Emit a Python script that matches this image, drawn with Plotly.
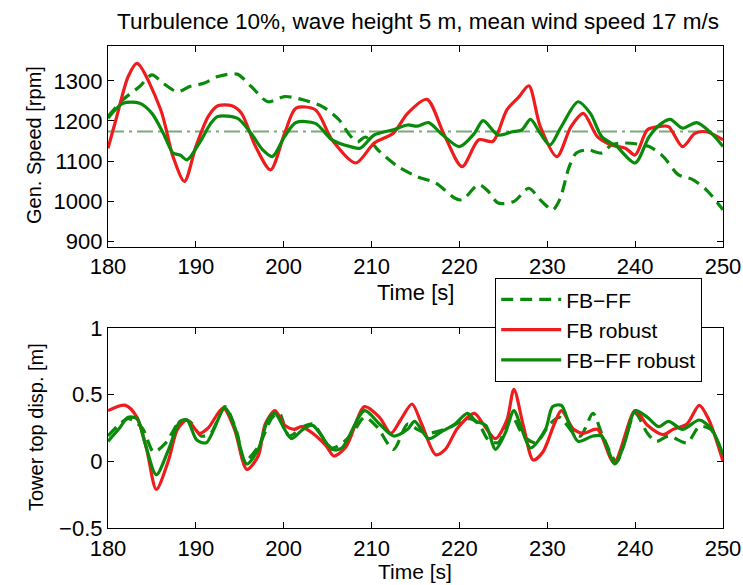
import plotly.graph_objects as go

# ---------------- data: generator speed [rpm] ----------------
rated_speed = 1173.7

gs_fbff_t = [180, 181.7, 183.6, 185, 186.3, 187.9, 189.3, 190.9, 192.5, 194.7,
             196.3, 198.2, 200.1, 202.2, 204.4, 206.3, 207.5, 208.4, 209.3, 210.9,
             213, 215.2, 217.3, 219.5, 220.3, 222.2, 223.3, 224.4, 226.2, 227.9,
             229.2, 230.6, 231.4, 232.5, 233.3, 234.6, 236.2, 237.3, 238.9, 241.6,
             243.2, 244.9, 246.5, 248.1, 250]
gs_fbff_v = [1211, 1253, 1286, 1315, 1294, 1273, 1286, 1294, 1311, 1317,
             1286, 1248, 1261, 1253, 1236, 1203, 1165, 1148, 1160, 1124,
             1086, 1061, 1045, 1007, 1003, 1041, 1024, 995, 999, 1032,
             1003, 978, 1003, 1086, 1120, 1128, 1120, 1140, 1145, 1136,
             1111, 1066, 1054, 1028, 978]

gs_fbr_t = [180, 180.9, 182.3, 183.3, 186, 187.4, 188.7, 190, 191.4, 192.5,
            194.1, 195.2, 196.8, 198.5, 200.1, 201.4, 203.6, 205.5, 208.2, 210.3,
            212.5, 214.1, 216.3, 218.2, 220.3, 222.2, 223.8, 225.4, 226.8, 227.9,
            229.2, 231.1, 232.7, 234.1, 235.7, 237.3, 238.9, 240, 241.4, 242.7,
            243.8, 245.4, 246.8, 248.1, 250]
gs_fbr_v = [1132, 1203, 1311, 1344, 1228, 1111, 1049, 1136, 1211, 1238,
            1238, 1219, 1136, 1078, 1169, 1232, 1228, 1153, 1095, 1145,
            1170, 1219, 1254, 1169, 1086, 1153, 1149, 1228, 1261, 1288,
            1186, 1111, 1186, 1219, 1161, 1140, 1132, 1115, 1178, 1186,
            1186, 1136, 1169, 1173, 1153]

gs_fbffr_t = [180, 181.7, 183.6, 185, 186.3, 187.4, 188.2, 189, 190.4, 191.7,
              192.5, 194.7, 196.3, 197.6, 198.7, 200.1, 201.4, 203.6, 205.5, 207.6,
              208.7, 210.3, 212.5, 214.1, 215.2, 216.5, 217.9, 220, 221.7, 222.7,
              224.4, 226, 227.1, 228.1, 229.2, 230.3, 231.6, 233.5, 234.9, 236.2,
              237.9, 240, 241.6, 243, 244, 245.4, 247, 248.7, 250]
gs_fbffr_v = [1207, 1244, 1244, 1219, 1169, 1120, 1115, 1103, 1145, 1194,
              1211, 1207, 1169, 1128, 1111, 1161, 1196, 1194, 1153, 1136,
              1132, 1165, 1178, 1190, 1187, 1196, 1169, 1136, 1169, 1201,
              1165, 1173, 1178, 1204, 1169, 1140, 1186, 1248, 1219, 1161,
              1136, 1095, 1161, 1194, 1204, 1182, 1196, 1169, 1136]

# ---------------- data: tower top displacement [m] ----------------
td_fbff_t = [180, 182.3, 183.9, 185.2, 186.6, 188.2, 189.3, 190.6, 191.7, 193.3,
             194.7, 195.5, 197.1, 198.7, 199.5, 200.6, 202.2, 203.3, 205.5, 207.6,
             209.2, 210.6, 212.5, 214.1, 215.2, 216.3, 218.4, 221.1, 222.2, 223.3,
             224.4, 226, 227.3, 228.7, 230.3, 231.4, 233, 233.8, 235.2, 236.2,
             237.9, 240, 241.4, 242.4, 243.8, 245.9, 247.3, 248.6, 250]
td_fbff_v = [0.19, 0.32, 0.25, 0.07, 0.14, 0.30, 0.30, 0.19, 0.21, 0.41,
             0.21, 0.0, 0.11, 0.33, 0.36, 0.19, 0.26, 0.28, 0.10, 0.19,
             0.33, 0.26, 0.09, 0.28, 0.24, 0.21, 0.24, 0.32, 0.28, 0.16,
             0.14, 0.33, 0.19, 0.14, 0.28, 0.33, 0.21, 0.19, 0.36, 0.21,
             0.0, 0.36, 0.21, 0.15, 0.19, 0.14, 0.26, 0.24, 0.04]

td_fbr_t = [180, 182, 183.3, 184.4, 185.5, 186.9, 187.9, 189, 190.4, 191.4,
            193.1, 194.4, 195.8, 197.1, 197.9, 199, 200.1, 201.2, 202, 203.3,
            204.9, 205.7, 207.1, 209.2, 210.9, 212.2, 213.3, 214.6, 215.7, 217.3,
            218.4, 219.8, 221.7, 222.7, 224.1, 225.4, 226.2, 227.3, 228.4, 229.5,
            230.8, 231.6, 233, 234.1, 235.7, 237.6, 240, 241.4, 243.2, 244.3,
            245.9, 247.3, 248.4, 250]
td_fbr_v = [0.38, 0.42, 0.33, 0.09, -0.21, 0.01, 0.24, 0.31, 0.21, 0.25,
            0.40, 0.24, -0.06, 0.04, 0.28, 0.38, 0.27, 0.24, 0.26, 0.21,
            0.11, 0.04, 0.11, 0.41, 0.33, 0.21, 0.31, 0.43, 0.28, 0.05,
            0.09, 0.25, 0.36, 0.28, 0.17, 0.31, 0.54, 0.26, 0.01, 0.07,
            0.28, 0.38, 0.24, 0.21, 0.24, -0.01, 0.38, 0.27, 0.20, 0.24,
            0.28, 0.42, 0.31, 0.0]

td_fbffr_t = [180, 181.2, 182.3, 183.3, 184.2, 185.5, 186.9, 188.2, 189, 190.1,
              191.2, 193.3, 194.4, 195.8, 197.1, 198.2, 199, 200.1, 200.9, 202.2,
              203.3, 205.5, 206.6, 209.2, 210.9, 212.5, 214.1, 214.9, 216.5, 217.9,
              219.5, 220.9, 221.9, 223, 224.1, 225.2, 226.2, 227.1, 228.1, 229.8,
              230.6, 231.6, 232.5, 233.5, 235.2, 236.2, 237.7, 238.9, 240, 241.4,
              242.7, 243.8, 245.4, 247.3, 248.7, 250]
td_fbffr_v = [0.15, 0.24, 0.33, 0.32, 0.14, -0.10, 0.09, 0.30, 0.31, 0.16,
              0.14, 0.40, 0.26, -0.02, 0.09, 0.31, 0.36, 0.24, 0.17, 0.24,
              0.27, 0.09, 0.10, 0.38, 0.28, 0.19, 0.24, 0.30, 0.17, 0.22,
              0.28, 0.36, 0.30, 0.27, 0.09, 0.21, 0.38, 0.24, 0.10, 0.24,
              0.41, 0.42, 0.28, 0.15, 0.19, 0.19, -0.02, 0.16, 0.38, 0.33,
              0.26, 0.30, 0.24, 0.31, 0.24, 0.05]

x_ticks = [180, 190, 200, 210, 220, 230, 240, 250]
gs_ticks = [900, 1000, 1100, 1200, 1300]
td_ticks = [-0.5, 0, 0.5, 1]
td_ticklabels = ["\u22120.5", "0", "0.5", "1"]

title_text = "Turbulence 10%, wave height 5 m, mean wind speed 17 m/s"
names = ["FB\u2212FF", "FB robust", "FB\u2212FF robust"]

# ---------------- styling ----------------
RED = "#ee1c1c"
GREEN = "#0a8a0a"
REFGREEN = "#7aa87a"
FONT = "Liberation Sans"
LW = 3.2
DASH = "12px,7px"
HFS = 22   # horizontal text size
VFS = 20   # vertical text size

fig = go.Figure()

# Top panel
fig.add_trace(go.Scatter(x=[x_ticks[0], x_ticks[-1]], y=[rated_speed, rated_speed],
                         mode="lines", line=dict(color=REFGREEN, width=2, dash="16px,5px,3px,5px"),
                         showlegend=False, xaxis="x", yaxis="y", hoverinfo="skip"))
fig.add_trace(go.Scatter(x=gs_fbff_t, y=gs_fbff_v, mode="lines", name=names[0],
                         line=dict(color=GREEN, width=LW, dash=DASH, shape="spline", smoothing=0.8),
                         xaxis="x", yaxis="y", legendrank=1))
fig.add_trace(go.Scatter(x=gs_fbr_t, y=gs_fbr_v, mode="lines", name=names[1],
                         line=dict(color=RED, width=LW, shape="spline", smoothing=0.8),
                         xaxis="x", yaxis="y", legendrank=2))
fig.add_trace(go.Scatter(x=gs_fbffr_t, y=gs_fbffr_v, mode="lines", name=names[2],
                         line=dict(color=GREEN, width=LW, shape="spline", smoothing=0.8),
                         xaxis="x", yaxis="y", legendrank=3))

# Bottom panel
fig.add_trace(go.Scatter(x=td_fbff_t, y=td_fbff_v, mode="lines", name=names[0],
                         line=dict(color=GREEN, width=LW, dash=DASH, shape="spline", smoothing=0.8),
                         xaxis="x2", yaxis="y2", showlegend=False))
fig.add_trace(go.Scatter(x=td_fbr_t, y=td_fbr_v, mode="lines", name=names[1],
                         line=dict(color=RED, width=LW, shape="spline", smoothing=0.8),
                         xaxis="x2", yaxis="y2", showlegend=False))
fig.add_trace(go.Scatter(x=td_fbffr_t, y=td_fbffr_v, mode="lines", name=names[2],
                         line=dict(color=GREEN, width=LW, shape="spline", smoothing=0.8),
                         xaxis="x2", yaxis="y2", showlegend=False))

W, H = 743, 585
xdom = [108 / W, 723 / W]
axis_common = dict(showline=True, linecolor="black", linewidth=1.2, mirror="ticks",
                   ticks="inside", ticklen=6, tickcolor="black", showgrid=False,
                   zeroline=False, automargin=False,
                   tickfont=dict(family=FONT, size=HFS, color="black"))

fig.update_layout(
    width=W, height=H, autosize=False,
    margin=dict(l=0, r=0, t=0, b=0, pad=0, autoexpand=False),
    paper_bgcolor="white", plot_bgcolor="white",
    font=dict(family=FONT, color="black"),
    xaxis=dict(domain=xdom, range=[180, 250], tickvals=x_ticks, anchor="y", **axis_common),
    yaxis=dict(domain=[(H - 246.7) / H, (H - 45.7) / H], range=[886, 1388], tickvals=gs_ticks,
               anchor="x", **axis_common),
    xaxis2=dict(domain=xdom, range=[180, 250], tickvals=x_ticks, anchor="y2", **axis_common),
    yaxis2=dict(domain=[(H - 528) / H, (H - 328) / H], range=[-0.5, 1], tickvals=td_ticks,
                ticktext=td_ticklabels, anchor="x2", **axis_common),
    legend=dict(x=495 / W, y=(H - 278) / H, xanchor="left", yanchor="top",
                bgcolor="white", bordercolor="black", borderwidth=1.2,
                font=dict(family=FONT, size=21, color="black"),
                tracegroupgap=0, itemwidth=60),
    showlegend=True,
)

annotations = [
    dict(text=title_text, x=418 / W, y=(H - 22) / H, xref="paper", yref="paper",
         showarrow=False, font=dict(family=FONT, size=22.5, color="black"),
         xanchor="center", yanchor="middle"),
    dict(text="Time [s]", x=415 / W, y=(H - 292) / H, xref="paper", yref="paper",
         showarrow=False, font=dict(family=FONT, size=HFS, color="black"),
         xanchor="center", yanchor="middle"),
    dict(text="Time [s]", x=415 / W, y=(H - 571) / H, xref="paper", yref="paper",
         showarrow=False, font=dict(family=FONT, size=HFS - 1, color="black"),
         xanchor="center", yanchor="middle"),
    dict(text="Gen. Speed [rpm]", x=34 / W, y=(H - 145) / H, xref="paper", yref="paper",
         showarrow=False, textangle=-90, font=dict(family=FONT, size=VFS, color="black"),
         xanchor="center", yanchor="middle"),
    dict(text="Tower top disp. [m]", x=36 / W, y=(H - 427) / H, xref="paper", yref="paper",
         showarrow=False, textangle=-90, font=dict(family=FONT, size=VFS, color="black"),
         xanchor="center", yanchor="middle"),
]
fig.update_layout(annotations=annotations)

fig.write_html("out.html")
